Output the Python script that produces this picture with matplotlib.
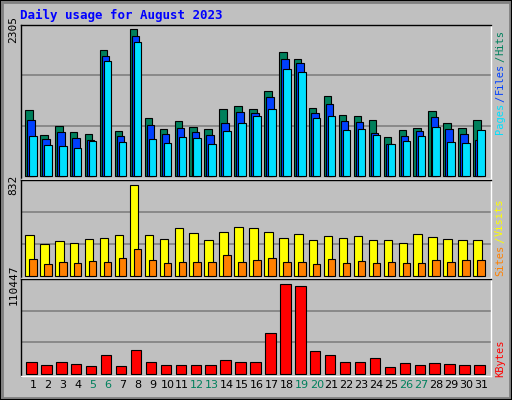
import matplotlib
matplotlib.use("Agg")
import matplotlib.pyplot as plt
import numpy as np

days = list(range(1, 32))
weekends = [5, 6, 12, 13, 19, 20, 26, 27]
hits = [1043,647,787,694,662,1977,709,2305,913,741,866,772,741,1053,1100,1053,1335,1945,1836,1069,1257,960,944,881,615,725,756,1022,834,756,881]
files = [881,584,694,600,568,1883,631,2196,803,662,756,694,647,834,1006,991,1241,1836,1773,991,1132,866,850,678,506,631,709,928,741,662,568]
pages = [631,490,475,443,553,1804,537,2102,584,522,615,600,506,709,834,944,1053,1679,1632,913,944,725,741,647,506,553,631,772,537,522,725]
visits = [372,291,318,300,336,345,372,832,372,336,436,390,327,400,445,436,400,345,381,327,363,345,363,327,327,300,381,354,336,327,327]
sites = [147,102,120,111,129,120,165,246,138,111,120,120,120,192,120,138,156,120,120,102,147,111,129,111,120,111,111,138,120,138,138]
kbytes = [13700,10080,14900,11280,8870,23380,8870,29420,14900,10080,10080,10080,10080,17330,14900,13700,49970,110447,108000,28210,23380,13700,14900,19750,7660,12490,10080,12490,11280,10080,10080]

W, H = 512, 400
BG = "#C0C0C0"
fig = plt.figure(figsize=(W/100, H/100), dpi=100, facecolor=BG)
mono = "DejaVu Sans Mono"

def ax_at(x0, y0, x1, y1):
    return fig.add_axes([x0/W, 1-y1/H, (x1-x0)/W, (y1-y0)/H])

x = np.array(days, dtype=float)
ax1 = ax_at(21, 25, 491, 179)
ax2 = ax_at(21, 180, 491, 278)
ax3 = ax_at(21, 279, 491, 376)

def setup(ax, ymax, pxh, pxbar):
    ytop = ymax * pxh / pxbar
    ax.set_facecolor(BG)
    ax.set_xlim(0.2, 31.67)
    pad = ytop * 2.5 / pxh
    ax.set_ylim(-pad, ytop)
    for k in (1, 2):
        ax.axhline(ytop * k / 3, color="#808080", lw=1.2, zorder=0)
    ax.set_yticks([ymax])
    ax.set_yticklabels([str(ymax)], rotation=90, va="center", fontsize=8, family=mono)
    ax.tick_params(axis="y", length=0, pad=2)
    ax.set_xticks([])
    for s in ax.spines.values():
        s.set_color("black"); s.set_linewidth(1)
    ax.spines["bottom"].set_color("white"); ax.spines["right"].set_color("white")
    return ytop

setup(ax1, 2305, 151, 147)
ax1.bar(x - 0.52, hits, width=0.5, color="#00805C", edgecolor="black", lw=0.8, align="edge")
ax1.bar(x - 0.38, files, width=0.5, color="#0040FF", edgecolor="black", lw=0.8, align="edge")
ax1.bar(x - 0.25, pages, width=0.5, color="#00E0FF", edgecolor="black", lw=0.8, align="edge")

setup(ax2, 832, 97, 92.3)
ax2.bar(x - 0.52, visits, width=0.57, color="#FFFF00", edgecolor="black", lw=0.8, align="edge")
ax2.bar(x - 0.25, sites, width=0.5, color="#FF8000", edgecolor="black", lw=0.8, align="edge")

setup(ax3, 110447, 97, 91.5)
ax3.bar(x - 0.45, kbytes, width=0.7, color="#FF0000", edgecolor="black", lw=0.8, align="edge")
ax3.set_xticks(days)
ax3.set_xticklabels([str(d) for d in days], fontsize=8, family="DejaVu Sans")
ax3.tick_params(axis="x", length=0, pad=3)
for t, d in zip(ax3.get_xticklabels(), days):
    t.set_color("#00805C" if d in weekends else "black")

fig.text(20/W, 1-15/H, "Daily usage for August 2023", color="#0000FF", fontsize=9,
         family=mono, weight="bold", va="center")

def side(parts, ycenter, step):
    total = sum(len(p) for p, _ in parts)
    pos = ycenter + total * step / 2
    for txt, col in parts:
        h = len(txt) * step
        fig.text(500/W, 1-(pos - h/2)/H, txt, color=col, rotation=90, fontsize=7.5,
                 family=mono, ha="center", va="center")
        pos -= h

side([("Pages", "#00E0FF"), ("/", "#0040FF"), ("Files", "#0040FF"), ("/", "#00805C"), ("Hits", "#00805C")], 82, 6.6)
side([("Sites", "#FF8000"), ("/", "#FFFF00"), ("Visits", "#FFFF00")], 237, 6.6)
side([("KBytes", "#FF0000")], 358, 6.0)

fig.patches.append(plt.Rectangle((0.004, 0.004), 0.992, 0.992, transform=fig.transFigure,
                                 fill=False, edgecolor="#808080", lw=2))
fig.patches.append(plt.Rectangle((0, 0), 1, 1, transform=fig.transFigure,
                                 fill=False, edgecolor="black", lw=1.5))
fig.savefig("out.png", dpi=100, facecolor=BG)
